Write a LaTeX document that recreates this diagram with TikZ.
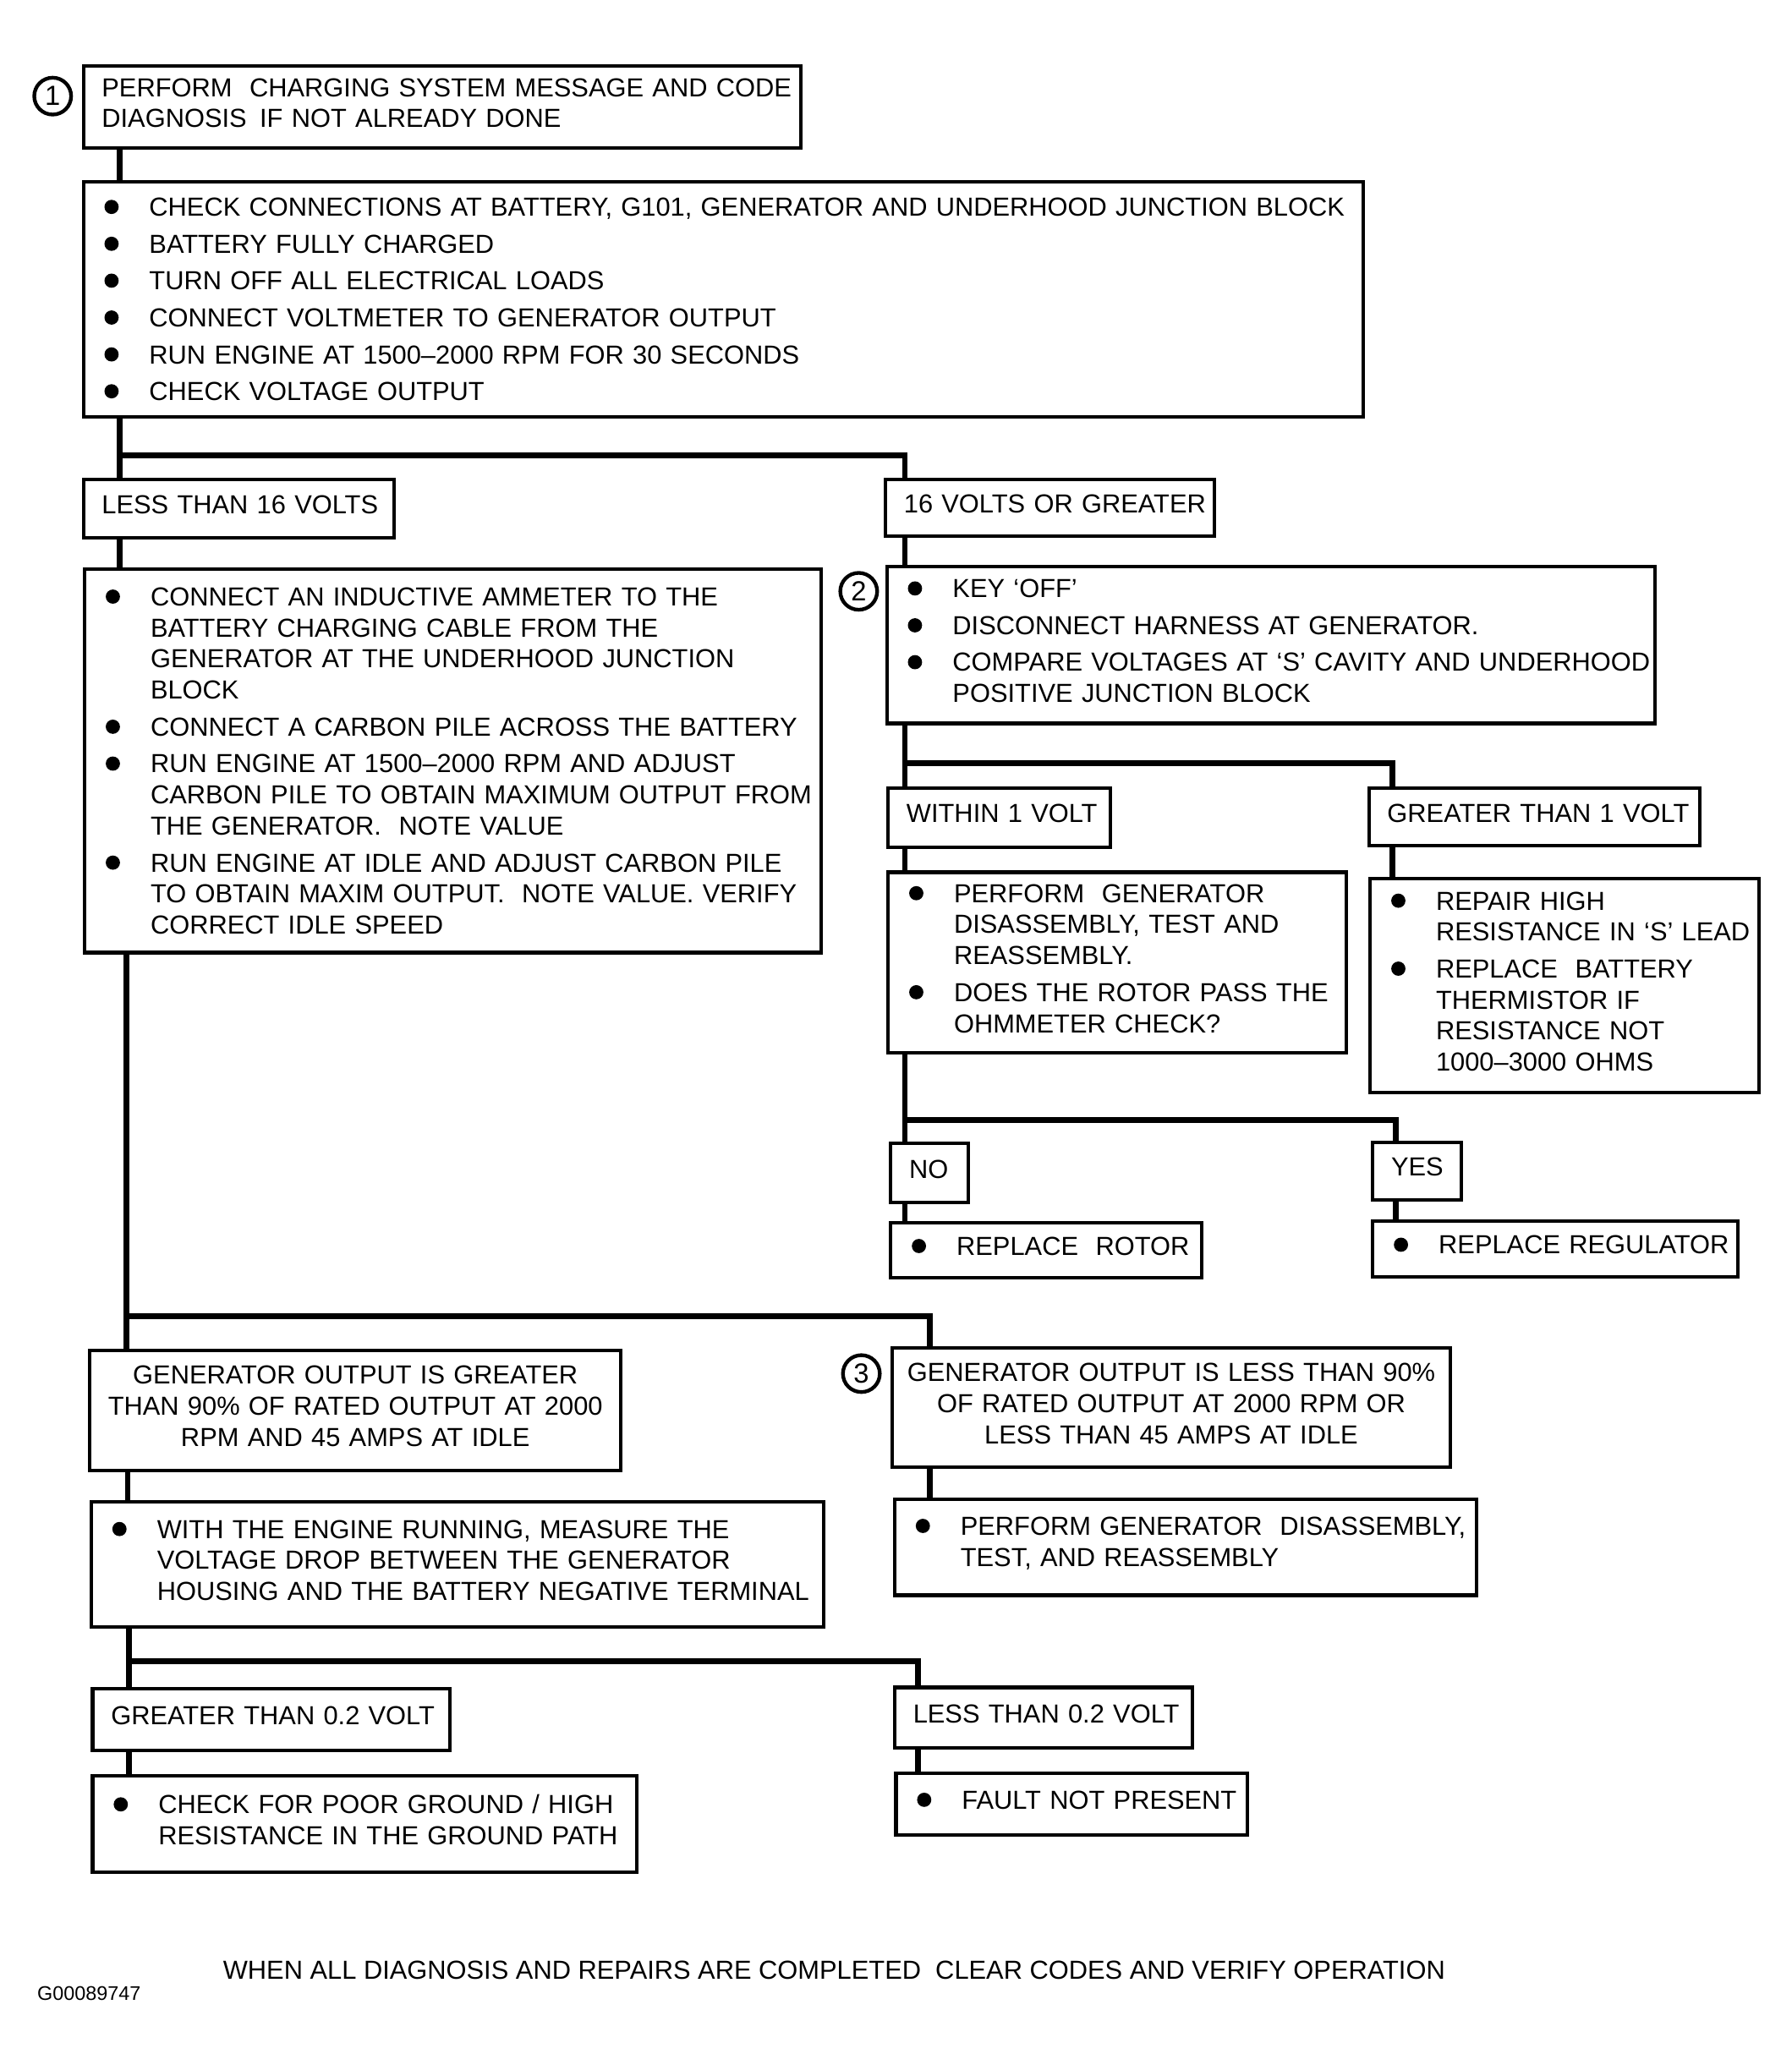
\documentclass[tikz,border=0pt]{standalone}
\usepackage{fontspec}
\setmainfont{Liberation Sans}
\usepackage{tikz}
\usetikzlibrary{calc}

\newcommand{\bdot}{\tikz[baseline=0pt]\fill (2.7pt,3.5pt) circle (2.7pt);}
\newcommand{\bul}[1]{\leftskip=8pt\rightskip=-5pt plus 1fil\parskip=2.2pt\hyphenpenalty=10000\hangindent=17pt\hangafter=1\makebox[17pt][l]{\bdot}#1\par}
\newcommand{\lbl}[1]{\noindent\hspace*{7pt}#1}
\newcommand{\liftby}[1]{\par\vspace{#1}}

\begin{document}
\begin{tikzpicture}[x=0.5pt, y=-0.5pt,
                lift/.style={execute at end node={\liftby{#1}}}, % Raise text in box
                box/.style={draw, line width=1.3pt, anchor=north west, inner sep=0pt, align=left, font=\fontsize{9.9}{11.8}\selectfont, lift=3pt}, % Box with text
                tall/.style={draw, line width=1.3pt, anchor=north west, inner sep=0pt, align=left, font=\fontsize{9.9}{11.8}\selectfont}, % Long bullet list
                mid/.style={box, align=center}, % Box with centred text
                num/.style={circle, draw, line width=1.4pt, inner sep=0pt, minimum size=14pt, font=\fontsize{10.5}{12}\selectfont}, % Step number
                conn/.style={line width=2.2pt} % Connector
                ]
                \useasboundingbox (0,0) rectangle (1360,1568);

                % step 1
                \node[num] (n1) at (40,73) {1};
                \node[box, text width=272.5pt, minimum height=31pt] (diag) at (62,49) {\lbl{PERFORM \ CHARGING SYSTEM MESSAGE AND CODE}\\ \lbl{DIAGNOSIS \,IF NOT ALREADY DONE}};
                \node[tall, text width=486pt, minimum height=89pt] (check) at (62,137) {\bul{CHECK CONNECTIONS AT BATTERY, G101, GENERATOR AND UNDERHOOD JUNCTION BLOCK}\bul{BATTERY FULLY CHARGED}\bul{TURN OFF ALL ELECTRICAL LOADS}\bul{CONNECT VOLTMETER TO GENERATOR OUTPUT}\bul{RUN ENGINE AT 1500--2000 RPM FOR 30 SECONDS}\bul{CHECK VOLTAGE OUTPUT}};
                \node[box, text width=118pt, minimum height=22pt] (lt16) at (62,363) {\lbl{LESS THAN 16 VOLTS}};
                \node[box, text width=125pt, minimum height=21.5pt] (ge16) at (671,363) {\lbl{16 VOLTS OR GREATER}};
                \node[tall, text width=279.5pt, minimum height=145.5pt] (amm) at (63,431) {\bul{CONNECT AN INDUCTIVE AMMETER TO THE\newline BATTERY CHARGING CABLE FROM THE\newline GENERATOR AT THE UNDERHOOD JUNCTION\newline BLOCK}\bul{CONNECT A CARBON PILE ACROSS THE BATTERY}\bul{RUN ENGINE AT 1500--2000 RPM AND ADJUST\newline CARBON PILE TO OBTAIN MAXIMUM OUTPUT FROM\newline THE GENERATOR. \ NOTE VALUE}\bul{RUN ENGINE AT IDLE AND ADJUST CARBON PILE\newline TO OBTAIN MAXIM OUTPUT. \ NOTE VALUE. VERIFY\newline CORRECT IDLE SPEED}};

                % step 2
                \node[num] (n2) at (652,449) {2};
                \node[box, text width=291.5pt, minimum height=59.5pt] (key) at (672,429) {\bul{KEY `OFF'}\bul{DISCONNECT HARNESS AT GENERATOR.}\bul{COMPARE VOLTAGES AT `S' CAVITY AND UNDERHOOD\newline POSITIVE JUNCTION BLOCK}};
                \node[box, text width=84.5pt, minimum height=22.5pt] (win1) at (673,597) {\lbl{WITHIN 1 VOLT}};
                \node[box, text width=125.5pt, minimum height=22pt] (gt1) at (1038,597) {\lbl{GREATER THAN 1 VOLT}};
                \node[box, text width=174pt, minimum height=68.5pt] (rotor) at (673,661) {\bul{PERFORM \ GENERATOR\newline DISASSEMBLY, TEST AND\newline REASSEMBLY.}\bul{DOES THE ROTOR PASS THE\newline OHMMETER CHECK?}};
                \node[box, text width=147.5pt, minimum height=81pt] (slead) at (1039,666) {\bul{REPAIR HIGH\newline RESISTANCE IN `S' LEAD}\bul{REPLACE \ BATTERY\newline THERMISTOR IF\newline RESISTANCE NOT\newline 1000--3000 OHMS}};
                \node[box, text width=29.5pt, minimum height=22.5pt] (no) at (675,867) {\lbl{NO}};
                \node[box, text width=33.5pt, minimum height=22pt] (yes) at (1041,866) {\lbl{YES}};
                \node[box, text width=118pt, minimum height=21pt] (newrotor) at (675,927) {\bul{REPLACE \ ROTOR}};
                \node[box, text width=138.5pt, minimum height=21pt] (newreg) at (1041,926) {\bul{REPLACE REGULATOR}};

                % step 3
                \node[mid, text width=201.5pt, minimum height=45.5pt] (outok) at (67,1024) {GENERATOR OUTPUT IS GREATER\\ THAN 90\% OF RATED OUTPUT AT 2000\\ RPM AND 45 AMPS AT IDLE};
                \node[num] (n3) at (654,1043) {3};
                \node[mid, text width=212pt, minimum height=45.5pt] (outlow) at (676,1022) {GENERATOR OUTPUT IS LESS THAN 90\%\\ OF RATED OUTPUT AT 2000 RPM OR\\ LESS THAN 45 AMPS AT IDLE};
                \node[box, text width=278pt, minimum height=47.5pt] (drop) at (68,1139) {\bul{WITH THE ENGINE RUNNING, MEASURE THE\newline VOLTAGE DROP BETWEEN THE GENERATOR\newline HOUSING AND THE BATTERY NEGATIVE TERMINAL}};
                \node[box, text width=221pt, minimum height=36.5pt] (rebuild) at (678,1137) {\bul{PERFORM GENERATOR \ DISASSEMBLY,\newline TEST, AND REASSEMBLY}};
                \node[box, text width=135.5pt, minimum height=23.5pt] (gt02) at (69,1281) {\lbl{GREATER THAN 0.2 VOLT}};
                \node[box, text width=113pt, minimum height=23pt] (lt02) at (678,1280) {\lbl{LESS THAN 0.2 VOLT}};
                \node[box, text width=206.5pt, minimum height=36.5pt] (ground) at (69,1347) {\bul{CHECK FOR POOR GROUND / HIGH\newline RESISTANCE IN THE GROUND PATH}};
                \node[box, text width=133.5pt, minimum height=23.5pt] (nofault) at (679,1345) {\bul{FAULT NOT PRESENT}};

                \node[anchor=west, inner sep=0pt, font=\fontsize{9.9}{12}\selectfont] (note) at (169,1496) {WHEN ALL DIAGNOSIS AND REPAIRS ARE COMPLETED \ CLEAR CODES AND VERIFY OPERATION};
                \node[anchor=west, inner sep=0pt, font=\fontsize{7.5}{9}\selectfont] (code) at (28,1514) {G00089747};

                % connectors
                \draw[conn] ($(diag.south west)+(29,0)$) -- ($(check.north west)+(29,0)$);
                \draw[conn] ($(check.south west)+(29,0)$) -- ($(lt16.north west)+(29,0)$);
                \draw[conn] ($(check.south west)+(29,28)$) -| ($(ge16.north west)+(16,0)$);
                \draw[conn] ($(lt16.south west)+(29,0)$) -- ($(amm.north west)+(28,0)$);
                \draw[conn] ($(ge16.south west)+(16,0)$) -- ($(key.north west)+(15,0)$);
                \draw[conn] ($(key.south west)+(15,0)$) -- ($(win1.north west)+(14,0)$);
                \draw[conn] ($(key.south west)+(15,29)$) -| ($(gt1.north west)+(19,0)$);
                \draw[conn] ($(win1.south west)+(14,0)$) -- ($(rotor.north west)+(14,0)$);
                \draw[conn] ($(gt1.south west)+(19,0)$) -- ($(slead.north west)+(18,0)$);
                \draw[conn] ($(rotor.south west)+(14,0)$) -- ($(no.north west)+(12,0)$);
                \draw[conn] ($(rotor.south west)+(14,50)$) -| ($(yes.north west)+(19,0)$);
                \draw[conn] ($(no.south west)+(12,0)$) -- ($(newrotor.north west)+(12,0)$);
                \draw[conn] ($(yes.south west)+(19,0)$) -- ($(newreg.north west)+(19,0)$);
                \draw[conn] ($(amm.south west)+(33,0)$) -- ($(outok.north west)+(29,0)$);
                \draw[conn] ($(amm.south west)+(33,275)$) -| ($(outlow.north west)+(30,0)$);
                \draw[conn] ($(outok.south west)+(30,0)$) -- ($(drop.north west)+(29,0)$);
                \draw[conn] ($(outlow.south west)+(30,0)$) -- ($(rebuild.north west)+(28,0)$);
                \draw[conn] ($(drop.south west)+(30,0)$) -- ($(gt02.north west)+(29,0)$);
                \draw[conn] ($(drop.south west)+(30,25)$) -| ($(lt02.north west)+(19,0)$);
                \draw[conn] ($(gt02.south west)+(29,0)$) -- ($(ground.north west)+(29,0)$);
                \draw[conn] ($(lt02.south west)+(19,0)$) -- ($(nofault.north west)+(18,0)$);
            \end{tikzpicture}
\end{document}
